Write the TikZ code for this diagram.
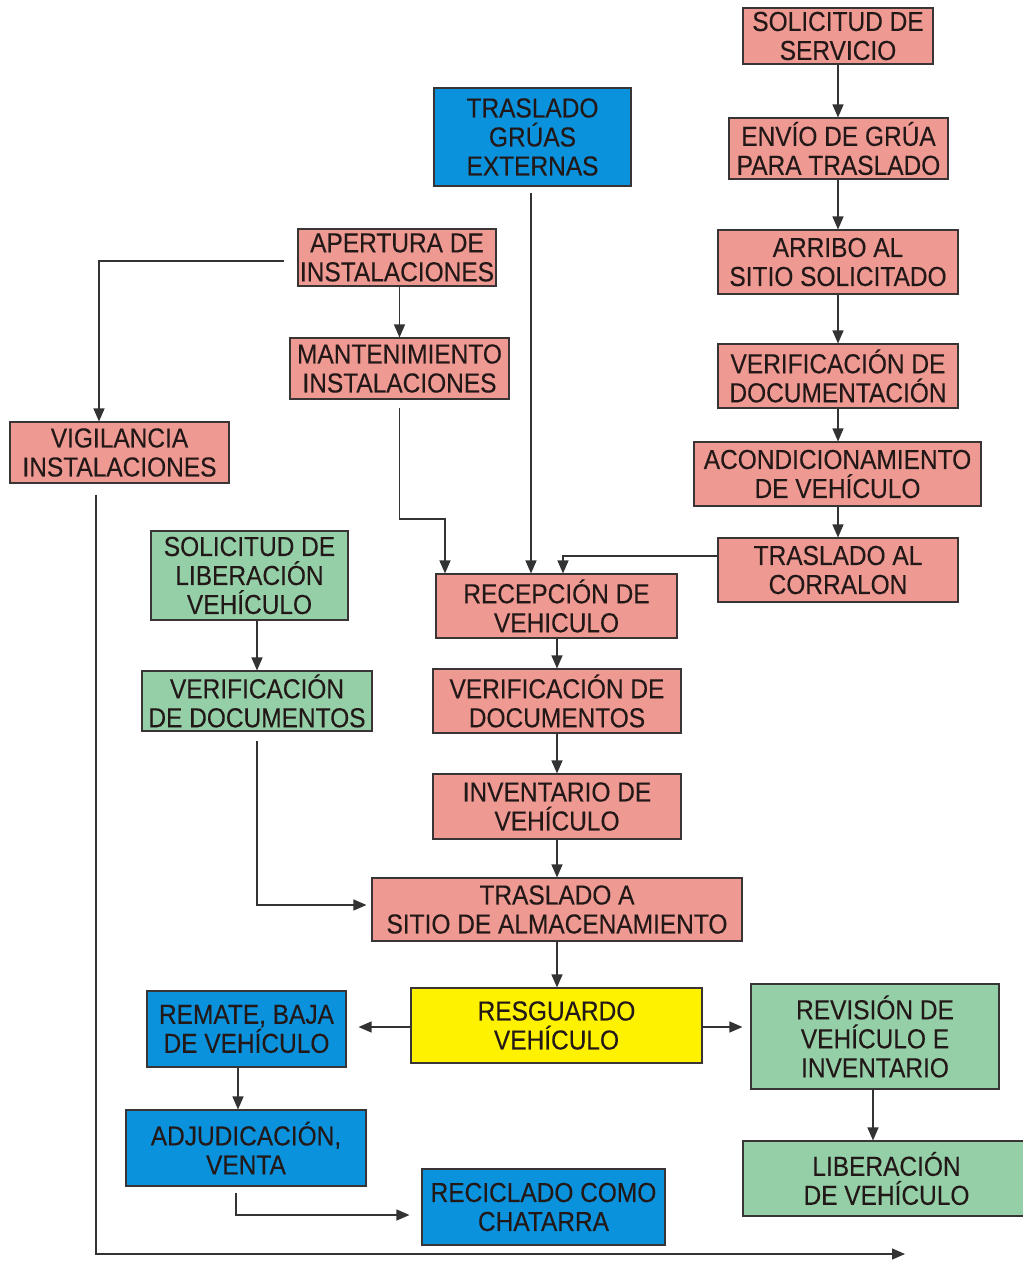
\documentclass[tikz,border=0pt]{standalone}
\usepackage{fontspec}
\setmainfont[FakeStretch=0.89,FakeBold=0.2]{Liberation Sans}
\usetikzlibrary{arrows.meta,calc}
\definecolor{salmon}{HTML}{EE9A93}
\definecolor{bblue}{HTML}{0A92DC}
\definecolor{bgreen}{HTML}{94CFA8}
\definecolor{byellow}{HTML}{FFF200}
\definecolor{boxline}{HTML}{3A3535}
\definecolor{txt}{HTML}{231818}
\definecolor{lin}{HTML}{333333}
\begin{document}
\begin{tikzpicture}[x=1pt,y=-1pt,
  box/.style={draw=boxline, line width=1.1pt, align=center, inner sep=0pt, text=txt,
    font=\fontsize{27.5pt}{29pt}\selectfont},
  sal/.style={box, fill=salmon},
  blu/.style={box, fill=bblue},
  grn/.style={box, fill=bgreen},
  yel/.style={box, fill=byellow},
  conn/.style={draw=lin, line width=1.2pt},
  arr/.style={conn, -{Triangle[length=13pt,width=11pt]}}]
\useasboundingbox[fill=white] (0,0) rectangle (1023,1262);

% right column
\node[sal, minimum width=190pt, minimum height=56pt] (sol) at (838,36) {SOLICITUD DE\\SERVICIO};
\node[sal, minimum width=219pt, minimum height=61pt] (env) at (838.5,148.5) {ENVÍO DE GRÚA\\PARA TRASLADO};
\node[sal, minimum width=240pt, minimum height=64pt] (arr) at (838,262) {ARRIBO AL\\SITIO SOLICITADO};
\node[sal, minimum width=240pt, minimum height=64pt] (ver) at (838,376) {VERIFICACIÓN DE\\DOCUMENTACIÓN};
\node[sal, minimum width=287pt, minimum height=64pt] (aco) at (837.5,474) {ACONDICIONAMIENTO\\DE VEHÍCULO};
\node[sal, minimum width=240pt, minimum height=64pt] (tal) at (838,570) {TRASLADO AL\\CORRALON};

% upper middle / left
\node[blu, minimum width=197pt, minimum height=98pt] (tge) at (532.5,137) {TRASLADO\\GRÚAS\\EXTERNAS};
\node[sal, minimum width=198pt, minimum height=57pt] (ape) at (397,257.5) {APERTURA DE\\INSTALACIONES};
\node[sal, minimum width=219pt, minimum height=61pt] (man) at (399.5,368.5) {MANTENIMIENTO\\INSTALACIONES};
\node[sal, minimum width=219pt, minimum height=61pt] (vig) at (119.5,452.5) {VIGILANCIA\\INSTALACIONES};
\node[grn, minimum width=197pt, minimum height=89pt] (slv) at (249.5,575.5) {SOLICITUD DE\\LIBERACIÓN\\VEHÍCULO};
\node[grn, minimum width=230pt, minimum height=60pt] (vdg) at (257,701) {VERIFICACIÓN\\DE DOCUMENTOS};

% central column
\node[sal, minimum width=241pt, minimum height=64pt] (rec) at (556.5,606) {RECEPCIÓN DE\\VEHICULO};
\node[sal, minimum width=248pt, minimum height=64pt] (vds) at (557,701) {VERIFICACIÓN DE\\DOCUMENTOS};
\node[sal, minimum width=248pt, minimum height=65pt] (inv) at (557,806.5) {INVENTARIO DE\\VEHÍCULO};
\node[sal, minimum width=370pt, minimum height=63pt] (tsa) at (557,909.5) {TRASLADO A\\SITIO DE ALMACENAMIENTO};
\node[yel, minimum width=291pt, minimum height=75pt] (res) at (556.5,1025.5) {RESGUARDO\\VEHÍCULO};

% bottom
\node[blu, minimum width=199pt, minimum height=76pt] (rem) at (246.5,1029) {REMATE, BAJA\\DE VEHÍCULO};
\node[blu, minimum width=240pt, minimum height=76pt] (adj) at (246,1148) {ADJUDICACIÓN,\\VENTA};
\node[blu, minimum width=243pt, minimum height=76pt] (rc) at (543.5,1207) {RECICLADO COMO\\CHATARRA};
\node[grn, minimum width=248pt, minimum height=105pt] (rvi) at (875,1036.5) {REVISIÓN DE\\VEHÍCULO E\\INVENTARIO};
\node[grn, minimum width=287pt, minimum height=75pt] (lib) at (886.5,1178.5) {LIBERACIÓN\\DE VEHÍCULO};

\coordinate (mbend) at (445,519);
\coordinate (vend) at (905,1254);

% right column connectors
\draw[arr] (sol.south) -- (sol.south |- env.north);
\draw[arr] (env.south -| sol.south) -- (sol.south |- arr.north);
\draw[arr] (arr.south) -- (arr.south |- ver.north);
\draw[arr] (ver.south) -- (ver.south |- aco.north);
\draw[arr] (aco.south -| ver.south) -- (ver.south |- tal.north);
\draw[arr] ([yshift=14pt]tal.west) -| ([xshift=6.5pt]rec.north);

% upper middle
\draw[arr] ([xshift=-1.5pt,yshift=-6pt]tge.south) -- ([xshift=-1.5pt]tge.south |- rec.north);
\draw[arr] (ape.south -| man.north) -- (man.north);
\draw[arr] ([xshift=-13pt,yshift=-3.5pt]ape.west) -| ([xshift=-20.5pt]vig.north);
\draw[arr] ([yshift=-8pt]man.south) |- (mbend) -- (mbend |- rec.north);
\draw[arr] ([xshift=-23.5pt,yshift=-11pt]vig.south) |- (vend);

% green left
\draw[arr] (slv.south -| vdg.north) -- (vdg.north);
\draw[arr] ([yshift=-9pt]vdg.south) |- ($(tsa.west)+(-5,-4.5)$);

% central column
\draw[arr] (rec.south -| vds.north) -- (vds.north);
\draw[arr] (vds.south) -- (inv.north);
\draw[arr] (inv.south) -- (tsa.north);
\draw[arr] (tsa.south) -- (tsa.south |- res.north);

% bottom
\draw[arr] ([yshift=-1.5pt]res.west) -- ($(rem.east |- res.west)+(12,1.5)$);
\draw[arr] ([yshift=-1.5pt]res.east) -- ($(rvi.west |- res.east)+(-8,1.5)$);
\draw[arr] ([xshift=-8.5pt]rem.south) -- ([xshift=-8.5pt]rem.south |- adj.north);
\draw[arr] ([xshift=-10pt,yshift=-6pt]adj.south) |- ($(rc.west)+(-12,8)$);
\draw[arr] ([xshift=-2pt]rvi.south) -- ([xshift=-2pt]rvi.south |- lib.north);
\end{tikzpicture}
\end{document}
